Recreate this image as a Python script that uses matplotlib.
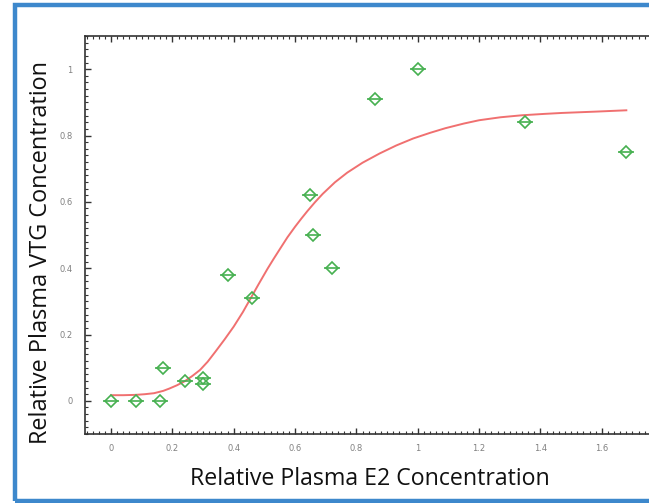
import matplotlib.pyplot as plt
from matplotlib.patches import Rectangle
from matplotlib.ticker import MultipleLocator, FixedLocator

# measured points (relative E2, relative VTG)
e2_obs = [0.0, 0.08, 0.16, 0.17, 0.24, 0.30, 0.30, 0.38, 0.46, 0.65, 0.66, 0.72, 0.86, 1.0, 1.35, 1.68]
vtg_obs = [0.0, 0.0, 0.0, 0.10, 0.06, 0.07, 0.05, 0.38, 0.31, 0.62, 0.50, 0.40, 0.91, 1.0, 0.84, 0.75]

# fitted curve
e2_fit = [0.0, 0.04, 0.08, 0.11, 0.14, 0.17, 0.19, 0.215, 0.24, 0.265, 0.29, 0.315, 0.34,
          0.37, 0.40, 0.43, 0.455, 0.48, 0.51, 0.53, 0.55, 0.575, 0.60, 0.62, 0.64, 0.665, 0.69,
          0.73, 0.77, 0.82, 0.876, 0.93, 0.985, 1.04, 1.09, 1.15, 1.2, 1.27, 1.34, 1.41, 1.47,
          1.58, 1.68]
vtg_fit = [0.017, 0.017, 0.018, 0.020, 0.023, 0.030, 0.037, 0.047, 0.059, 0.075, 0.093, 0.118, 0.148,
           0.185, 0.224, 0.268, 0.309, 0.350, 0.398, 0.428, 0.457, 0.493, 0.525, 0.549, 0.572, 0.599,
           0.624, 0.659, 0.688, 0.718, 0.746, 0.770, 0.791, 0.808, 0.822, 0.836, 0.846, 0.855, 0.861,
           0.865, 0.868, 0.872, 0.876]

x_ticks = [0, 0.2, 0.4, 0.6, 0.8, 1, 1.2, 1.4, 1.6]
x_labels = ["0", "0.2", "0.4", "0.6", "0.8", "1", "1.2", "1.4", "1.6"]
y_ticks = [0, 0.2, 0.4, 0.6, 0.8, 1]
y_labels = ["0", "0.2", "0.4", "0.6", "0.8", "1"]

fig = plt.figure(figsize=(6.49, 5.03), dpi=100)
fig.patch.set_facecolor("white")

# blue frame around the panel (runs off the right edge)
fig.patches.append(Rectangle((15 / 649, 2 / 503), 1.0, 496 / 503, transform=fig.transFigure,
                             fill=False, edgecolor="#3d88cc", linewidth=3.2))

ax = fig.add_axes([85 / 649, 69 / 503, 572 / 649, 398 / 503])
ax.set_xlim(-0.085, 1.78)
ax.set_ylim(-0.1, 1.1)

ax.plot(e2_fit, vtg_fit, color="#f07070", linewidth=1.4, zorder=2)
ax.plot(e2_obs, vtg_obs, linestyle="none", marker="D", markersize=6, markerfacecolor="none",
        markeredgecolor="#46b050", markeredgewidth=1.2, zorder=3)
ax.plot(e2_obs, vtg_obs, linestyle="none", marker="_", markersize=12,
        markeredgecolor="#46b050", markeredgewidth=1.2, zorder=3)

ax.xaxis.set_major_locator(FixedLocator(x_ticks))
ax.yaxis.set_major_locator(FixedLocator(y_ticks))
ax.set_xticklabels(x_labels)
ax.set_yticklabels(y_labels)
ax.xaxis.set_minor_locator(MultipleLocator(0.02))
ax.yaxis.set_minor_locator(MultipleLocator(0.02))
ax.tick_params(which="both", direction="in", top=True, right=True, color="#333333")
ax.tick_params(which="major", length=4, width=1, labelsize=6, labelcolor="#808080")
ax.tick_params(axis="x", which="major", pad=7)
ax.tick_params(axis="y", which="major", pad=9)
ax.tick_params(which="minor", length=2, width=0.8)
for s in ax.spines.values():
    s.set_color("#333333")
    s.set_linewidth(1.2)

ax.set_xlabel("Relative Plasma E2 Concentration", fontsize=16.7, family="Open Sans", color="#111111")
ax.set_ylabel("Relative Plasma VTG Concentration", fontsize=16.9, family="Open Sans", color="#111111")
ax.xaxis.set_label_coords((370 - 85) / 572, -(467 - 434) / 398)
ax.yaxis.set_label_coords(-(85 - 53) / 572, (503 - 252 - 69) / 398)

fig.savefig("out.png", dpi=100)
